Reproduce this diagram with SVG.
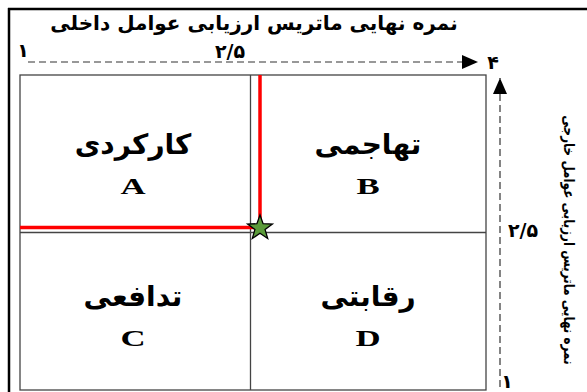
<svg xmlns="http://www.w3.org/2000/svg" width="587" height="392" viewBox="0 0 587 392">
<defs>
<style>
.fa{font-family:"DejaVu Sans",sans-serif;font-weight:bold;fill:#000}
.lt{font-family:"Liberation Serif",serif;font-weight:bold;fill:#000;font-size:24px}
.q{font-size:28px}
.num{font-size:19px}
.grid{stroke:#444;stroke-width:1.3;fill:none}
.dash{stroke:#333;stroke-width:1.2;stroke-dasharray:7,4;fill:none}
.red{stroke:#f00;stroke-width:3.5;fill:none}
</style>
<marker id="ahb" markerWidth="16" markerHeight="14" refX="16" refY="7" orient="auto" markerUnits="userSpaceOnUse" viewBox="0 0 16 14">
<path d="M0,0 L16,7 L0,14 Z" fill="#000"/>
</marker>
</defs>
<rect width="587" height="392" fill="#fff"/>
<g id="frame">
<line x1="8" y1="9" x2="587" y2="9" stroke="#000" stroke-width="2.5"/>
<line x1="9" y1="8" x2="9" y2="392" stroke="#000" stroke-width="2.5"/>
</g>
<g id="title"><text class="fa" x="254" y="30" font-size="20" text-anchor="middle" direction="rtl">نمره نهایی ماتریس ارزیابی عوامل داخلی</text></g>
<g id="grid">
<rect class="grid" x="20" y="75" width="466" height="315"/>
<line class="grid" x1="250.5" y1="75" x2="250.5" y2="390"/>
<line class="grid" x1="20" y1="232.5" x2="486" y2="232.5"/>
</g>
<g id="connectors">
<line class="dash" x1="28" y1="62" x2="478" y2="62" marker-end="url(#ahb)"/>
<line class="dash" x1="500" y1="387" x2="500" y2="78" marker-end="url(#ahb)"/>
<line class="red" x1="260" y1="75" x2="260" y2="228"/>
<line class="red" x1="20" y1="227.5" x2="260" y2="227.5"/>
</g>
<g id="axis-labels">
<text class="fa num" x="23" y="57" text-anchor="middle">۱</text>
<text class="fa num" x="230" y="58" text-anchor="middle">۲/۵</text>
<text class="fa num" x="493" y="69" text-anchor="middle">۴</text>
<text class="fa num" x="523" y="237" text-anchor="middle">۲/۵</text>
<text class="fa num" x="507" y="388" text-anchor="middle">۱</text>
<text class="fa" font-size="15" text-anchor="middle" direction="rtl" transform="translate(564,240) rotate(90) scale(0.8,1)">نمره نهایی ماتریس ارزیابی عوامل خارجی</text>
</g>
<g id="node-A">
<text class="fa q" x="133" y="154" text-anchor="middle" direction="rtl">کارکردی</text>
<text class="lt" text-anchor="middle" transform="translate(133,194) scale(1.45,1)">A</text>
</g>
<g id="node-B">
<text class="fa q" x="368" y="154" text-anchor="middle" direction="rtl">تهاجمی</text>
<text class="lt" text-anchor="middle" transform="translate(368,194) scale(1.45,1)">B</text>
</g>
<g id="node-C">
<text class="fa q" x="133" y="306" text-anchor="middle" direction="rtl">تدافعی</text>
<text class="lt" text-anchor="middle" transform="translate(133,346) scale(1.45,1)">C</text>
</g>
<g id="node-D">
<text class="fa q" x="368" y="306" text-anchor="middle" direction="rtl">رقابتی</text>
<text class="lt" text-anchor="middle" transform="translate(368,346) scale(1.45,1)">D</text>
</g>
<g id="star">
<path transform="translate(260,228)" d="M0,-13 L3.1,-4.3 L12.4,-4 L5.1,1.6 L7.7,10.5 L0,5.3 L-7.7,10.5 L-5.1,1.6 L-12.4,-4 L-3.1,-4.3 Z" fill="#5b9b3a" stroke="#000" stroke-width="1.3"/>
</g>
</svg>
